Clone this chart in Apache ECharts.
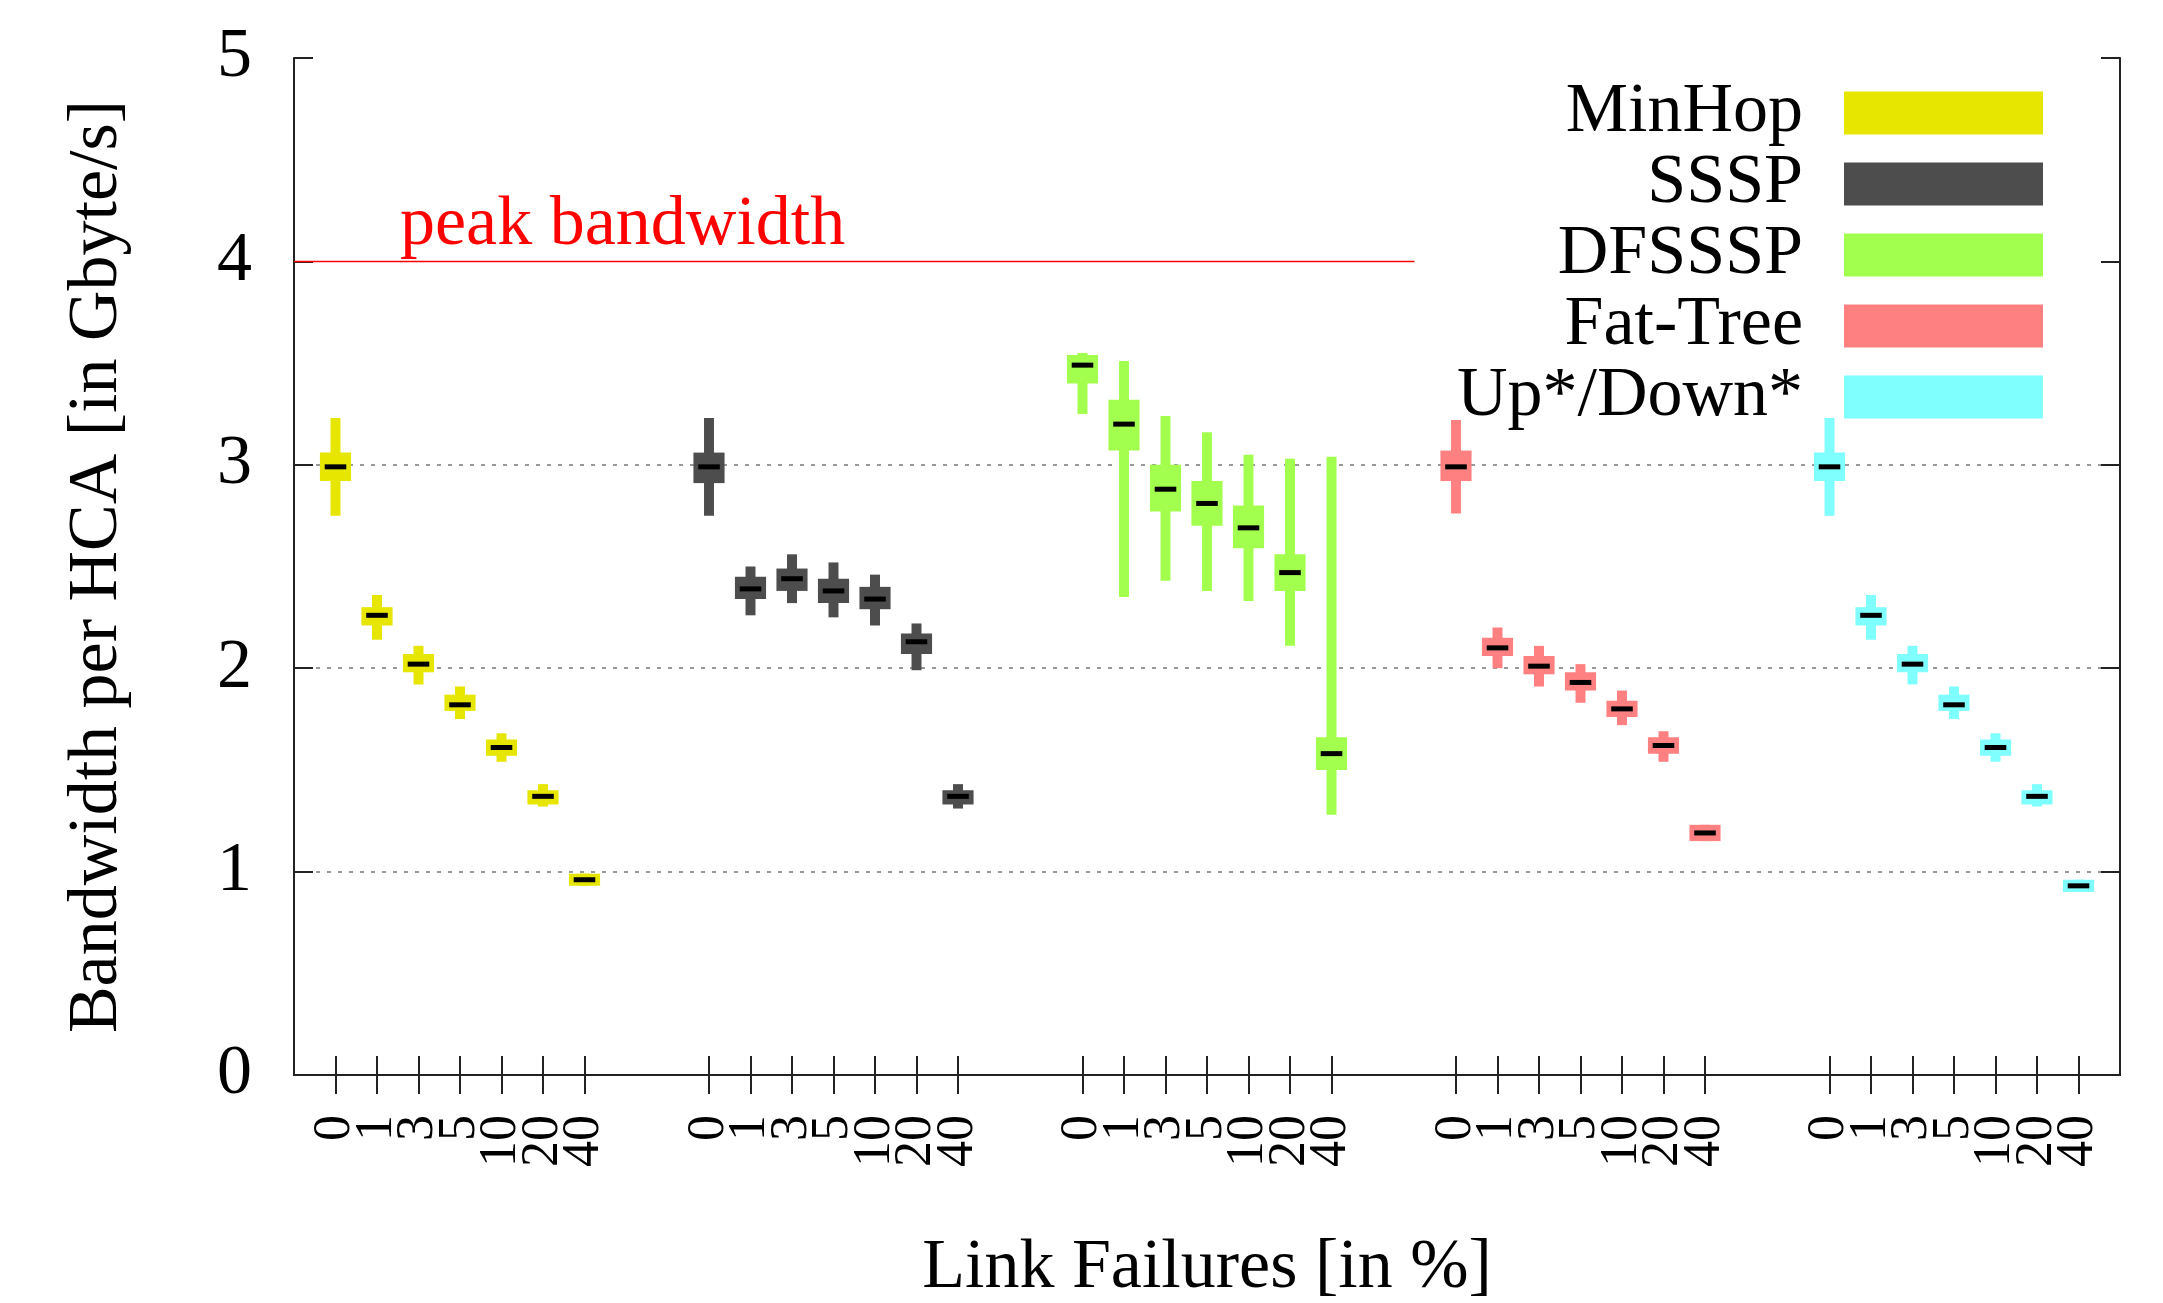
<!DOCTYPE html>
<html>
<head>
<meta charset="utf-8">
<script src="https://cdn.jsdelivr.net/npm/echarts@6/dist/echarts.min.js"></script>
<style>
  html, body { margin: 0; padding: 0; background: #fff; }
  #chart { width: 2163px; height: 1303px; }
</style>
</head>
<body>
<div id="chart"></div>
<script>
// ---- data ----
const routings = ['MinHop', 'SSSP', 'DFSSSP', 'Fat-Tree', 'Up*/Down*'];
const failureLabels = ['0', '1', '3', '5', '10', '20', '40'];
const yTicks = [0, 1, 2, 3, 4, 5];
const peakBandwidth = 4;
const peakLabel = 'peak bandwidth';

// each entry: [low, q1, median, q3, high] in Gbyte/s
const minHop = [[2.75, 2.92, 2.99, 3.06, 3.23], [2.14, 2.21, 2.26, 2.30, 2.36], [1.92, 1.98, 2.02, 2.07, 2.11], [1.75, 1.79, 1.82, 1.87, 1.91], [1.54, 1.57, 1.61, 1.65, 1.68], [1.32, 1.33, 1.37, 1.40, 1.43], [0.93, 0.93, 0.96, 0.99, 0.99]];
const sssp = [[2.75, 2.91, 2.99, 3.06, 3.23], [2.26, 2.34, 2.39, 2.45, 2.50], [2.32, 2.38, 2.44, 2.49, 2.56], [2.25, 2.32, 2.38, 2.44, 2.52], [2.21, 2.29, 2.34, 2.40, 2.46], [1.99, 2.07, 2.13, 2.17, 2.22], [1.31, 1.33, 1.37, 1.40, 1.43]];
const dfsssp = [[3.25, 3.40, 3.49, 3.54, 3.55], [2.35, 3.07, 3.20, 3.32, 3.51], [2.43, 2.77, 2.88, 3.00, 3.24], [2.38, 2.70, 2.81, 2.92, 3.16], [2.33, 2.59, 2.69, 2.80, 3.05], [2.11, 2.38, 2.47, 2.56, 3.03], [1.28, 1.50, 1.58, 1.66, 3.04]];
const fatTree = [[2.76, 2.92, 2.99, 3.07, 3.22], [2.00, 2.06, 2.10, 2.15, 2.20], [1.91, 1.97, 2.01, 2.06, 2.11], [1.83, 1.89, 1.93, 1.98, 2.02], [1.72, 1.76, 1.80, 1.84, 1.89], [1.54, 1.58, 1.62, 1.66, 1.69], [1.15, 1.15, 1.19, 1.23, 1.23]];
const upDown = [[2.75, 2.92, 2.99, 3.06, 3.23], [2.14, 2.21, 2.26, 2.30, 2.36], [1.92, 1.98, 2.02, 2.07, 2.11], [1.75, 1.79, 1.82, 1.87, 1.91], [1.54, 1.57, 1.61, 1.65, 1.68], [1.32, 1.33, 1.37, 1.40, 1.43], [0.90, 0.90, 0.93, 0.96, 0.96]];
const seriesValues = [minHop, sssp, dfsssp, fatTree, upDown];
const colors = ['#e6e600', '#4d4d4d', '#a3ff4d', '#ff8080', '#80ffff'];

// ---- category axis: edge gap, groups separated by two empty slots ----
const categories = ['gap-start'];
routings.forEach((r, gi) => {
  failureLabels.forEach(f => categories.push(r + '|' + f));
  if (gi < routings.length - 1) { categories.push('gap-' + gi + 'a'); categories.push('gap-' + gi + 'b'); }
});
categories.push('gap-end');
const isGap = v => v.indexOf('gap') === 0;

const FONT = '"Liberation Serif", "Times New Roman", serif';
const AXIS_COLOR = '#222';

const boxSeries = routings.map((r, si) => ({
  name: r,
  type: 'custom',
  xAxisIndex: 0, yAxisIndex: 0,
  itemStyle: { color: colors[si] },
  encode: { x: 0, y: [1, 2, 3, 4, 5] },
  data: seriesValues[si].map((v, fi) => [categories.indexOf(r + '|' + failureLabels[fi])].concat(v)),
  renderItem: function (params, api) {
    const x = api.value(0);
    const lo = api.coord([x, api.value(1)]);
    const q1 = api.coord([x, api.value(2)]);
    const md = api.coord([x, api.value(3)]);
    const q3 = api.coord([x, api.value(4)]);
    const hi = api.coord([x, api.value(5)]);
    const band = api.size([1, 0])[0];
    const boxW = band * 0.75, wW = band * 0.24, mW = band * 0.52, mH = 5;
    const color = api.visual('color');
    return {
      type: 'group',
      children: [
        { type: 'rect', shape: { x: lo[0] - wW / 2, y: hi[1], width: wW, height: lo[1] - hi[1] }, style: { fill: color } },
        { type: 'rect', shape: { x: q1[0] - boxW / 2, y: q3[1], width: boxW, height: Math.max(q1[1] - q3[1], 1) }, style: { fill: color } },
        { type: 'rect', shape: { x: md[0] - mW / 2, y: md[1] - mH / 2, width: mW, height: mH }, style: { fill: '#000' } }
      ]
    };
  }
}));

const chart = echarts.init(document.getElementById('chart'), null, { renderer: 'canvas' });
const option = {
  backgroundColor: '#fff',
  animation: false,
  grid: { left: 294, right: 43, top: 58, bottom: 228, show: false, containLabel: false, outerBoundsMode: 'none' },
  legend: {
    orient: 'vertical', right: 115, top: 73, align: 'right',
    itemWidth: 199, itemHeight: 43, itemGap: 1, icon: 'rect',
    data: routings,
    textStyle: { fontFamily: FONT, fontSize: 70, color: '#000', padding: [0, 36, 0, 0] }
  },
  xAxis: [{
    type: 'category', data: categories, boundaryGap: false, position: 'bottom',
    name: 'Link Failures [in %]', nameLocation: 'middle', nameGap: 159,
    nameTextStyle: { fontFamily: FONT, fontSize: 70, color: '#000' },
    axisLine: { show: true, lineStyle: { color: AXIS_COLOR, width: 2 } },
    axisTick: { show: true, inside: true, length: 19, interval: (i, v) => !isGap(v), lineStyle: { color: AXIS_COLOR, width: 2 } },
    axisLabel: { show: true, rotate: 90, margin: 40, interval: 0, hideOverlap: false, formatter: v => isGap(v) ? '' : v.split('|')[1], fontFamily: FONT, fontSize: 52, color: '#000' },
    splitLine: { show: false }
  }, {
    type: 'category', data: categories, boundaryGap: false, position: 'top',
    axisLine: { show: true, lineStyle: { color: AXIS_COLOR, width: 2 } },
    axisTick: { show: true, inside: true, length: 19, interval: (i, v) => !isGap(v), lineStyle: { color: AXIS_COLOR, width: 2 } },
    axisLabel: { show: false }, splitLine: { show: false }
  }],
  yAxis: [{
    type: 'value', min: yTicks[0], max: yTicks[yTicks.length - 1], interval: 1, position: 'left',
    name: 'Bandwidth per HCA [in Gbyte/s]', nameLocation: 'middle', nameGap: 161,
    nameTextStyle: { fontFamily: FONT, fontSize: 70, color: '#000' },
    axisLine: { show: true, lineStyle: { color: AXIS_COLOR, width: 2 } },
    axisTick: { show: true, inside: true, length: 19, lineStyle: { color: AXIS_COLOR, width: 2 } },
    axisLabel: { fontFamily: FONT, fontSize: 70, color: '#000', margin: 42 },
    splitLine: { show: true, lineStyle: { color: ['rgba(0,0,0,0)', '#999', '#999', '#999', 'rgba(0,0,0,0)', 'rgba(0,0,0,0)'], width: 2, type: [4, 7] } }
  }, {
    type: 'value', min: yTicks[0], max: yTicks[yTicks.length - 1], interval: 1, position: 'right',
    axisLine: { show: true, lineStyle: { color: AXIS_COLOR, width: 2 } },
    axisTick: { show: true, inside: true, length: 19, lineStyle: { color: AXIS_COLOR, width: 2 } },
    axisLabel: { show: false }, splitLine: { show: false }
  }],
  series: [{
    name: 'peak', type: 'line', silent: true, showSymbol: false, symbol: 'none',
    xAxisIndex: 0, yAxisIndex: 0,
    lineStyle: { color: '#ff0000', width: 1.5 },
    data: [[0, peakBandwidth], [27, peakBandwidth]],
    z: 1
  }].concat(boxSeries)
};
chart.setOption(option);
const p = chart.convertToPixel({ xAxisIndex: 0, yAxisIndex: 0 }, [0, peakBandwidth]);
chart.setOption({
  graphic: [{
    type: 'text', x: p[0] + 106, y: p[1] - 1,
    style: { text: peakLabel, fill: '#ff0000', fontFamily: FONT, fontSize: 70, align: 'left', verticalAlign: 'bottom' }
  }]
});
</script>
</body>
</html>
